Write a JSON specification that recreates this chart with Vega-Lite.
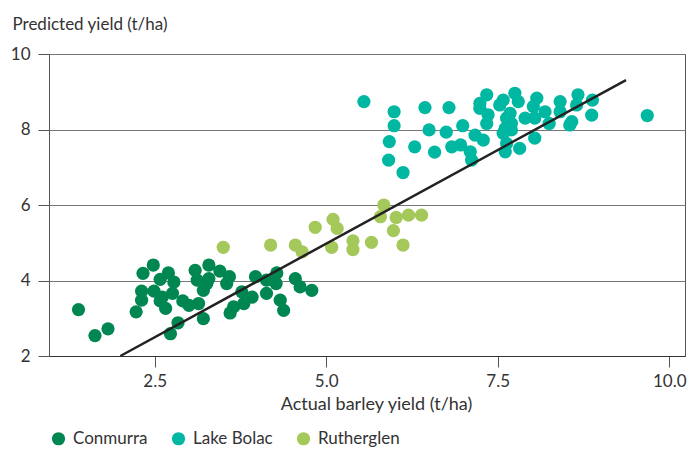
{
  "$schema": "https://vega.github.io/schema/vega-lite/v6.json",
  "autosize": {"type": "none"},
  "width": 636,
  "height": 302,
  "padding": {"left": 49, "top": 54, "right": 15, "bottom": 94},
  "background": "white",
  "config": {
    "font": "Lato",
    "view": {"stroke": "#555", "strokeWidth": 1},
    "axis": {"labelFont": "Lato", "titleFont": "Lato", "labelColor": "#333", "titleColor": "#333", "labelFontSize": 17, "titleFontSize": 17, "titleFontWeight": "normal"},
    "legend": {"labelFont": "Lato", "labelFontSize": 17, "labelColor": "#333"}
  },
  "datasets": {
    "points": [
      {"site": "Conmurra", "actual": 1.39, "predicted": 3.23},
      {"site": "Conmurra", "actual": 1.63, "predicted": 2.54},
      {"site": "Conmurra", "actual": 1.82, "predicted": 2.72},
      {"site": "Conmurra", "actual": 2.48, "predicted": 4.41},
      {"site": "Conmurra", "actual": 2.33, "predicted": 4.19},
      {"site": "Conmurra", "actual": 2.31, "predicted": 3.72},
      {"site": "Conmurra", "actual": 2.31, "predicted": 3.48},
      {"site": "Conmurra", "actual": 2.23, "predicted": 3.17},
      {"site": "Conmurra", "actual": 2.73, "predicted": 2.59},
      {"site": "Conmurra", "actual": 2.84, "predicted": 2.88},
      {"site": "Conmurra", "actual": 3.21, "predicted": 2.99},
      {"site": "Conmurra", "actual": 3.09, "predicted": 4.27},
      {"site": "Conmurra", "actual": 3.29, "predicted": 4.41},
      {"site": "Conmurra", "actual": 3.45, "predicted": 4.25},
      {"site": "Conmurra", "actual": 2.70, "predicted": 4.20},
      {"site": "Conmurra", "actual": 2.58, "predicted": 4.03},
      {"site": "Conmurra", "actual": 2.78, "predicted": 3.96},
      {"site": "Conmurra", "actual": 3.12, "predicted": 4.01},
      {"site": "Conmurra", "actual": 3.26, "predicted": 3.92},
      {"site": "Conmurra", "actual": 3.29, "predicted": 4.05},
      {"site": "Conmurra", "actual": 3.21, "predicted": 3.74},
      {"site": "Conmurra", "actual": 2.49, "predicted": 3.72},
      {"site": "Conmurra", "actual": 2.61, "predicted": 3.56},
      {"site": "Conmurra", "actual": 2.58, "predicted": 3.46},
      {"site": "Conmurra", "actual": 2.66, "predicted": 3.26},
      {"site": "Conmurra", "actual": 2.76, "predicted": 3.66},
      {"site": "Conmurra", "actual": 2.91, "predicted": 3.46},
      {"site": "Conmurra", "actual": 3.00, "predicted": 3.34},
      {"site": "Conmurra", "actual": 3.14, "predicted": 3.39},
      {"site": "Conmurra", "actual": 3.55, "predicted": 3.92},
      {"site": "Conmurra", "actual": 3.60, "predicted": 3.14},
      {"site": "Conmurra", "actual": 3.59, "predicted": 4.10},
      {"site": "Conmurra", "actual": 3.77, "predicted": 3.70},
      {"site": "Conmurra", "actual": 3.97, "predicted": 4.10},
      {"site": "Conmurra", "actual": 4.13, "predicted": 4.01},
      {"site": "Conmurra", "actual": 4.28, "predicted": 4.20},
      {"site": "Conmurra", "actual": 4.27, "predicted": 3.92},
      {"site": "Conmurra", "actual": 4.13, "predicted": 3.66},
      {"site": "Conmurra", "actual": 3.92, "predicted": 3.56},
      {"site": "Conmurra", "actual": 3.80, "predicted": 3.39},
      {"site": "Conmurra", "actual": 3.65, "predicted": 3.30},
      {"site": "Conmurra", "actual": 4.33, "predicted": 3.48},
      {"site": "Conmurra", "actual": 4.38, "predicted": 3.21},
      {"site": "Conmurra", "actual": 4.55, "predicted": 4.05},
      {"site": "Conmurra", "actual": 4.62, "predicted": 3.83},
      {"site": "Conmurra", "actual": 4.79, "predicted": 3.74},
      {"site": "Lake Bolac", "actual": 5.55, "predicted": 8.74},
      {"site": "Lake Bolac", "actual": 5.99, "predicted": 8.47},
      {"site": "Lake Bolac", "actual": 5.99, "predicted": 8.10},
      {"site": "Lake Bolac", "actual": 5.92, "predicted": 7.68},
      {"site": "Lake Bolac", "actual": 5.91, "predicted": 7.19},
      {"site": "Lake Bolac", "actual": 6.12, "predicted": 6.86},
      {"site": "Lake Bolac", "actual": 6.29, "predicted": 7.54},
      {"site": "Lake Bolac", "actual": 6.44, "predicted": 8.58},
      {"site": "Lake Bolac", "actual": 6.50, "predicted": 7.99},
      {"site": "Lake Bolac", "actual": 6.58, "predicted": 7.40},
      {"site": "Lake Bolac", "actual": 6.79, "predicted": 8.58},
      {"site": "Lake Bolac", "actual": 6.75, "predicted": 7.93},
      {"site": "Lake Bolac", "actual": 6.83, "predicted": 7.54},
      {"site": "Lake Bolac", "actual": 6.99, "predicted": 8.10},
      {"site": "Lake Bolac", "actual": 6.96, "predicted": 7.59},
      {"site": "Lake Bolac", "actual": 7.10, "predicted": 7.41},
      {"site": "Lake Bolac", "actual": 7.12, "predicted": 7.19},
      {"site": "Lake Bolac", "actual": 7.17, "predicted": 7.85},
      {"site": "Lake Bolac", "actual": 7.29, "predicted": 7.72},
      {"site": "Lake Bolac", "actual": 7.24, "predicted": 8.56},
      {"site": "Lake Bolac", "actual": 7.34, "predicted": 8.92},
      {"site": "Lake Bolac", "actual": 7.36, "predicted": 8.39},
      {"site": "Lake Bolac", "actual": 7.34, "predicted": 8.16},
      {"site": "Lake Bolac", "actual": 7.24, "predicted": 8.69},
      {"site": "Lake Bolac", "actual": 7.58, "predicted": 8.78},
      {"site": "Lake Bolac", "actual": 7.75, "predicted": 8.96},
      {"site": "Lake Bolac", "actual": 7.80, "predicted": 8.74},
      {"site": "Lake Bolac", "actual": 7.53, "predicted": 8.65},
      {"site": "Lake Bolac", "actual": 7.68, "predicted": 8.43},
      {"site": "Lake Bolac", "actual": 7.63, "predicted": 8.30},
      {"site": "Lake Bolac", "actual": 7.61, "predicted": 8.03},
      {"site": "Lake Bolac", "actual": 7.58, "predicted": 7.90},
      {"site": "Lake Bolac", "actual": 7.70, "predicted": 7.99},
      {"site": "Lake Bolac", "actual": 7.70, "predicted": 8.16},
      {"site": "Lake Bolac", "actual": 7.90, "predicted": 8.30},
      {"site": "Lake Bolac", "actual": 7.63, "predicted": 7.63},
      {"site": "Lake Bolac", "actual": 7.61, "predicted": 7.41},
      {"site": "Lake Bolac", "actual": 7.82, "predicted": 7.50},
      {"site": "Lake Bolac", "actual": 8.04, "predicted": 7.77},
      {"site": "Lake Bolac", "actual": 8.07, "predicted": 8.83},
      {"site": "Lake Bolac", "actual": 8.02, "predicted": 8.61},
      {"site": "Lake Bolac", "actual": 8.19, "predicted": 8.47},
      {"site": "Lake Bolac", "actual": 8.04, "predicted": 8.30},
      {"site": "Lake Bolac", "actual": 8.25, "predicted": 8.16},
      {"site": "Lake Bolac", "actual": 8.41, "predicted": 8.74},
      {"site": "Lake Bolac", "actual": 8.41, "predicted": 8.47},
      {"site": "Lake Bolac", "actual": 8.67, "predicted": 8.92},
      {"site": "Lake Bolac", "actual": 8.65, "predicted": 8.65},
      {"site": "Lake Bolac", "actual": 8.58, "predicted": 8.21},
      {"site": "Lake Bolac", "actual": 8.55, "predicted": 8.12},
      {"site": "Lake Bolac", "actual": 8.88, "predicted": 8.78},
      {"site": "Lake Bolac", "actual": 8.87, "predicted": 8.38},
      {"site": "Lake Bolac", "actual": 9.68, "predicted": 8.37},
      {"site": "Rutherglen", "actual": 3.50, "predicted": 4.88},
      {"site": "Rutherglen", "actual": 4.19, "predicted": 4.94},
      {"site": "Rutherglen", "actual": 4.55, "predicted": 4.94},
      {"site": "Rutherglen", "actual": 4.65, "predicted": 4.76},
      {"site": "Rutherglen", "actual": 4.84, "predicted": 5.41},
      {"site": "Rutherglen", "actual": 5.08, "predicted": 4.88},
      {"site": "Rutherglen", "actual": 5.10, "predicted": 5.62},
      {"site": "Rutherglen", "actual": 5.16, "predicted": 5.38},
      {"site": "Rutherglen", "actual": 5.39, "predicted": 5.05},
      {"site": "Rutherglen", "actual": 5.39, "predicted": 4.82},
      {"site": "Rutherglen", "actual": 5.66, "predicted": 5.01},
      {"site": "Rutherglen", "actual": 5.79, "predicted": 5.69},
      {"site": "Rutherglen", "actual": 5.84, "predicted": 6.00},
      {"site": "Rutherglen", "actual": 5.98, "predicted": 5.32},
      {"site": "Rutherglen", "actual": 6.02, "predicted": 5.67},
      {"site": "Rutherglen", "actual": 6.12, "predicted": 4.94},
      {"site": "Rutherglen", "actual": 6.20, "predicted": 5.73},
      {"site": "Rutherglen", "actual": 6.39, "predicted": 5.73}
    ],
    "fit": [
      {"actual": 2.0, "predicted": 2.0},
      {"actual": 9.37, "predicted": 9.31}
    ]
  },
  "layer": [
    {
      "data": {"name": "points"},
      "mark": {"type": "circle", "size": 175, "opacity": 1},
      "encoding": {
        "x": {
          "field": "actual", "type": "quantitative",
          "scale": {"domain": [0.96, 10.23], "nice": false, "zero": false},
          "axis": {
            "values": [2.5, 5, 7.5, 10], "format": ".1f", "grid": false,
            "domainColor": "#333", "tickColor": "#555", "tickSize": 11, "labelPadding": 6,
            "title": "Actual barley yield (t/ha)", "titlePadding": 6, "titleFontSize": 18, "titleX": 327
          }
        },
        "y": {
          "field": "predicted", "type": "quantitative",
          "scale": {"domain": [2, 10], "nice": false, "zero": false},
          "axis": {
            "values": [2, 4, 6, 8, 10], "grid": true, "gridColor": "#777",
            "domainColor": "#555", "tickColor": "#555", "tickSize": 11, "labelPadding": 8,
            "title": "Predicted yield (t/ha)", "titleAngle": 0, "titleAlign": "left",
            "titleBaseline": "alphabetic", "titleX": -37, "titleY": -25
          }
        },
        "color": {
          "field": "site", "type": "nominal",
          "scale": {"domain": ["Conmurra", "Lake Bolac", "Rutherglen"], "range": ["#008650", "#00b8a2", "#a4c85a"]},
          "legend": {
            "title": null, "orient": "none", "direction": "horizontal",
            "legendX": 1, "legendY": 376, "symbolType": "circle", "symbolSize": 175,
            "symbolOpacity": 1, "symbolStrokeWidth": 0, "labelOffset": 6, "columnPadding": 22
          }
        }
      }
    },
    {
      "data": {"name": "fit"},
      "mark": {"type": "line", "color": "#222", "strokeWidth": 2.5},
      "encoding": {
        "x": {"field": "actual", "type": "quantitative"},
        "y": {"field": "predicted", "type": "quantitative"}
      }
    }
  ]
}
